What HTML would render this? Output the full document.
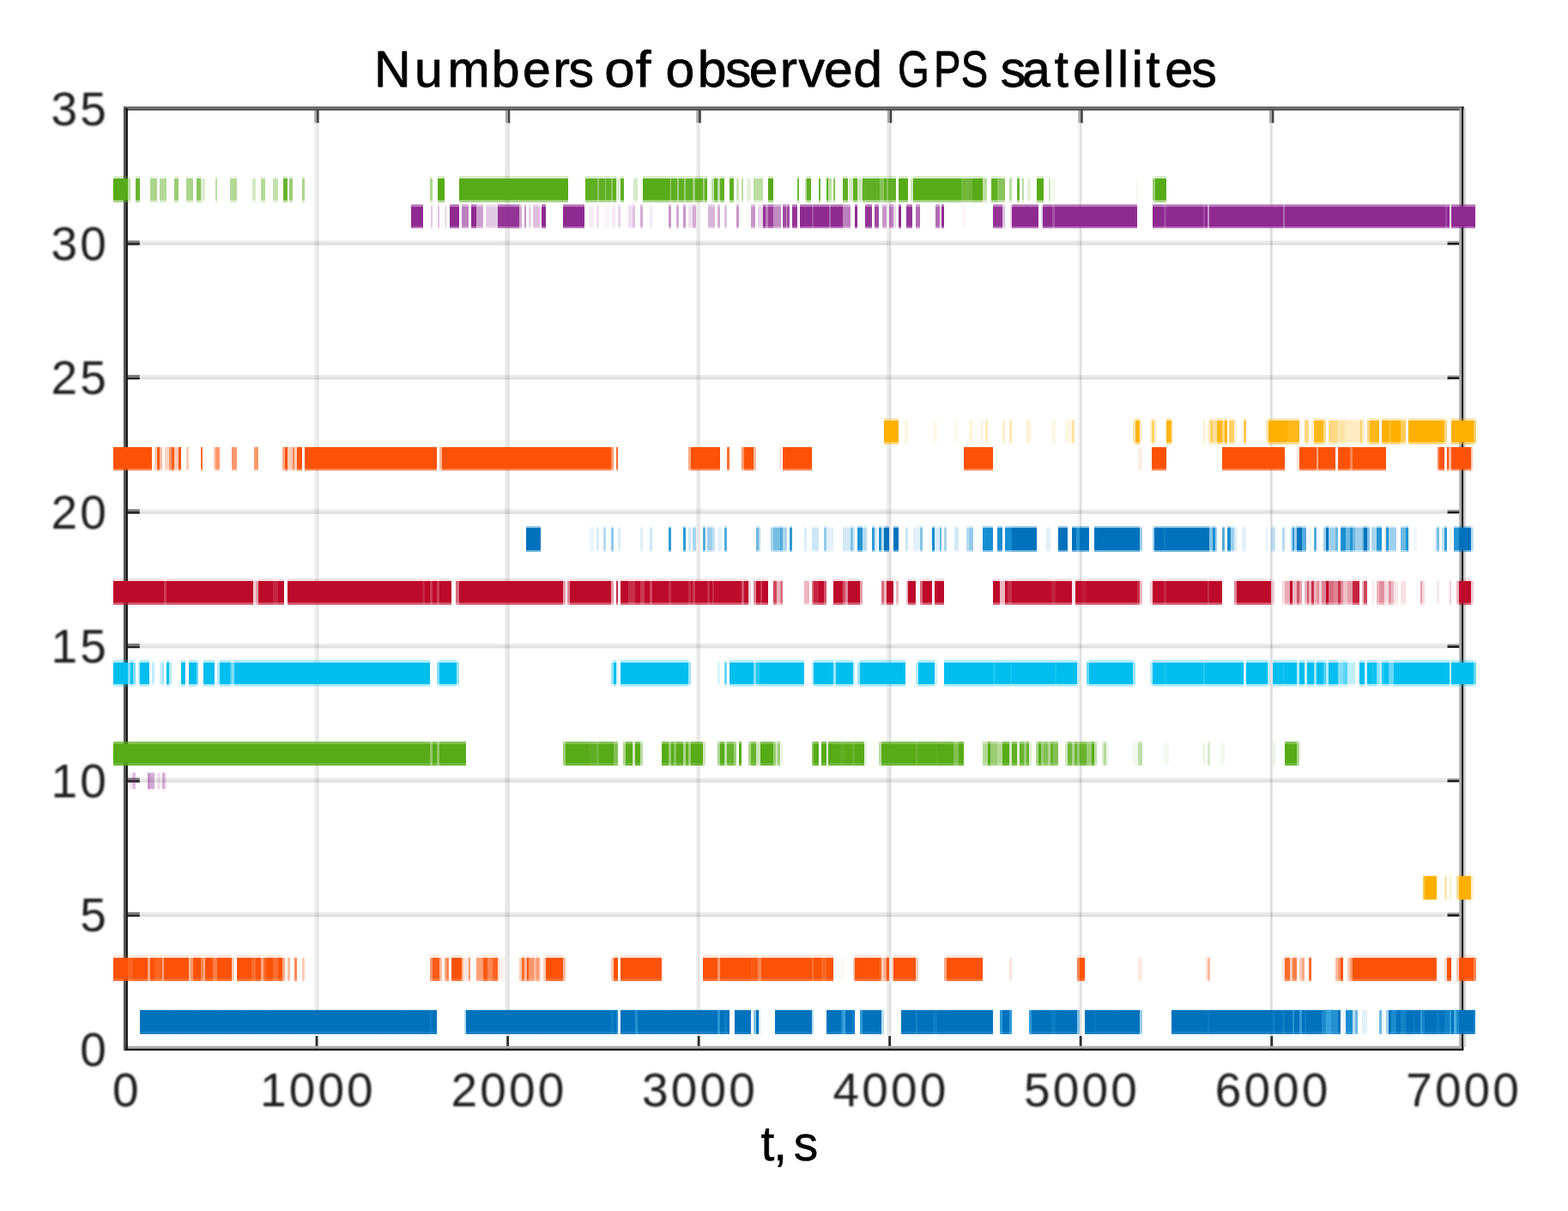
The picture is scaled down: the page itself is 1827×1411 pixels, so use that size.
<!DOCTYPE html>
<html lang="en"><head><meta charset="utf-8"><title>Numbers of observed GPS satellites</title>
<style>html,body{margin:0;padding:0;background:#fff}body{width:1827px;height:1411px;overflow:hidden}svg{display:block}text{font-family:"Liberation Sans",sans-serif}</style></head><body>
<svg width="1827" height="1411" viewBox="0 0 1827 1411">
<defs><filter id="tsoft" x="-5%" y="-20%" width="110%" height="140%"><feGaussianBlur stdDeviation="0.8"/></filter>
<linearGradient id="r1" x1="0" y1="0" x2="0" y2="1"><stop offset="0" stop-color="#0072bd" stop-opacity=".3"/><stop offset="0.0175" stop-color="#0072bd" stop-opacity=".3"/><stop offset="0.0175" stop-color="#0072bd"/><stop offset="0.8881" stop-color="#0072bd"/><stop offset="0.8881" stop-color="#0072bd" stop-opacity=".9"/><stop offset="1" stop-color="#0072bd" stop-opacity=".9"/></linearGradient><linearGradient id="p1" x1="0" y1="0" x2="0" y2="1"><stop offset="0" stop-color="#0a88cf" stop-opacity=".3"/><stop offset="0.0175" stop-color="#0a88cf" stop-opacity=".3"/><stop offset="0.0175" stop-color="#0a88cf"/><stop offset="0.8881" stop-color="#0a88cf"/><stop offset="0.8881" stop-color="#0a88cf" stop-opacity=".9"/><stop offset="1" stop-color="#0a88cf" stop-opacity=".9"/></linearGradient><linearGradient id="r3" x1="0" y1="0" x2="0" y2="1"><stop offset="0" stop-color="#fb5208" stop-opacity=".15"/><stop offset="0.0927" stop-color="#fb5208" stop-opacity=".15"/><stop offset="0.0927" stop-color="#fb5208"/><stop offset="0.9139" stop-color="#fb5208"/><stop offset="0.9139" stop-color="#fb5208" stop-opacity=".85"/><stop offset="1" stop-color="#fb5208" stop-opacity=".85"/></linearGradient><linearGradient id="r6" x1="0" y1="0" x2="0" y2="1"><stop offset="0" stop-color="#ffb000" stop-opacity=".5"/><stop offset="0.0284" stop-color="#ffb000" stop-opacity=".5"/><stop offset="0.0284" stop-color="#ffb000"/><stop offset="0.9787" stop-color="#ffb000"/><stop offset="0.9787" stop-color="#ffb000" stop-opacity=".5"/><stop offset="1" stop-color="#ffb000" stop-opacity=".5"/></linearGradient><linearGradient id="r10" x1="0" y1="0" x2="0" y2="1"><stop offset="0" stop-color="#8f2a91" stop-opacity=".4"/><stop offset="0.0952" stop-color="#8f2a91" stop-opacity=".4"/><stop offset="0.0952" stop-color="#8f2a91"/><stop offset="0.9048" stop-color="#8f2a91"/><stop offset="0.9048" stop-color="#8f2a91" stop-opacity=".4"/><stop offset="1" stop-color="#8f2a91" stop-opacity=".4"/></linearGradient><linearGradient id="r11" x1="0" y1="0" x2="0" y2="1"><stop offset="0" stop-color="#57ab17" stop-opacity=".75"/><stop offset="0.1036" stop-color="#57ab17" stop-opacity=".75"/><stop offset="0.1036" stop-color="#57ab17"/><stop offset="0.8929" stop-color="#57ab17"/><stop offset="0.8929" stop-color="#57ab17" stop-opacity=".85"/><stop offset="1" stop-color="#57ab17" stop-opacity=".85"/></linearGradient><linearGradient id="r14" x1="0" y1="0" x2="0" y2="1"><stop offset="0" stop-color="#00bef0" stop-opacity=".3"/><stop offset="0.0974" stop-color="#00bef0" stop-opacity=".3"/><stop offset="0.0974" stop-color="#00bef0"/><stop offset="0.9091" stop-color="#00bef0"/><stop offset="0.9091" stop-color="#00bef0" stop-opacity=".35"/><stop offset="1" stop-color="#00bef0" stop-opacity=".35"/></linearGradient><linearGradient id="r17" x1="0" y1="0" x2="0" y2="1"><stop offset="0" stop-color="#be0a2a" stop-opacity=".12"/><stop offset="0.0882" stop-color="#be0a2a" stop-opacity=".12"/><stop offset="0.0882" stop-color="#be0a2a"/><stop offset="0.9085" stop-color="#be0a2a"/><stop offset="0.9085" stop-color="#be0a2a" stop-opacity=".7"/><stop offset="1" stop-color="#be0a2a" stop-opacity=".7"/></linearGradient><linearGradient id="r19" x1="0" y1="0" x2="0" y2="1"><stop offset="0" stop-color="#0072bd" stop-opacity=".4"/><stop offset="0.0631" stop-color="#0072bd" stop-opacity=".4"/><stop offset="0.0631" stop-color="#0072bd"/><stop offset="0.9236" stop-color="#0072bd"/><stop offset="0.9236" stop-color="#0072bd" stop-opacity=".55"/><stop offset="1" stop-color="#0072bd" stop-opacity=".55"/></linearGradient><linearGradient id="p19" x1="0" y1="0" x2="0" y2="1"><stop offset="0" stop-color="#0a88cf" stop-opacity=".4"/><stop offset="0.0631" stop-color="#0a88cf" stop-opacity=".4"/><stop offset="0.0631" stop-color="#0a88cf"/><stop offset="0.9236" stop-color="#0a88cf"/><stop offset="0.9236" stop-color="#0a88cf" stop-opacity=".55"/><stop offset="1" stop-color="#0a88cf" stop-opacity=".55"/></linearGradient><linearGradient id="r22" x1="0" y1="0" x2="0" y2="1"><stop offset="0" stop-color="#fb5208" stop-opacity=".1"/><stop offset="0.0283" stop-color="#fb5208" stop-opacity=".1"/><stop offset="0.0283" stop-color="#fb5208"/><stop offset="0.9293" stop-color="#fb5208"/><stop offset="0.9293" stop-color="#fb5208" stop-opacity=".7"/><stop offset="1" stop-color="#fb5208" stop-opacity=".7"/></linearGradient><linearGradient id="r23" x1="0" y1="0" x2="0" y2="1"><stop offset="0" stop-color="#ffb000" stop-opacity=".3"/><stop offset="0.0915" stop-color="#ffb000" stop-opacity=".3"/><stop offset="0.0915" stop-color="#ffb000"/><stop offset="0.9118" stop-color="#ffb000"/><stop offset="0.9118" stop-color="#ffb000" stop-opacity=".55"/><stop offset="1" stop-color="#ffb000" stop-opacity=".55"/></linearGradient><linearGradient id="r31" x1="0" y1="0" x2="0" y2="1"><stop offset="0" stop-color="#8f2a91" stop-opacity=".65"/><stop offset="0.1043" stop-color="#8f2a91" stop-opacity=".65"/><stop offset="0.1043" stop-color="#8f2a91"/><stop offset="0.9101" stop-color="#8f2a91"/><stop offset="0.9101" stop-color="#8f2a91" stop-opacity=".65"/><stop offset="1" stop-color="#8f2a91" stop-opacity=".65"/></linearGradient><linearGradient id="r32" x1="0" y1="0" x2="0" y2="1"><stop offset="0" stop-color="#57ab17" stop-opacity=".25"/><stop offset="0.0817" stop-color="#57ab17" stop-opacity=".25"/><stop offset="0.0817" stop-color="#57ab17"/><stop offset="0.9052" stop-color="#57ab17"/><stop offset="0.9052" stop-color="#57ab17" stop-opacity=".55"/><stop offset="1" stop-color="#57ab17" stop-opacity=".55"/></linearGradient></defs>
<rect width="1827" height="1411" fill="#fff"/>
<g fill="#000"><rect x="366.1" y="143.3" width="2.9" height="1063.9" fill-opacity=".06"/><rect x="369" y="143.3" width="2.8" height="1063.9" fill-opacity=".09"/><rect x="588.4" y="143.3" width="3.2" height="1063.9" fill-opacity=".09"/><rect x="591.6" y="143.3" width="2.3" height="1063.9" fill-opacity=".11"/><rect x="810.9" y="143.3" width="2.1" height="1063.9" fill-opacity=".06"/><rect x="813" y="143.3" width="2.4" height="1063.9" fill-opacity=".1"/><rect x="815.4" y="143.3" width="0.8" height="1063.9" fill-opacity=".05"/><rect x="1032.9" y="143.3" width="3.3" height="1063.9" fill-opacity=".07"/><rect x="1036.2" y="143.3" width="2.1" height="1063.9" fill-opacity=".13"/><rect x="1255.5" y="143.3" width="2.5" height="1063.9" fill-opacity=".04"/><rect x="1258" y="143.3" width="2.5" height="1063.9" fill-opacity=".12"/><rect x="1479.9" y="143.3" width="2.8" height="1063.9" fill-opacity=".13"/><rect x="162.8" y="1062.9" width="1523.7" height="2.7" fill-opacity=".08"/><rect x="162.8" y="1065.6" width="1523.7" height="2.7" fill-opacity=".12"/><rect x="162.8" y="906.4" width="1523.7" height="2.7" fill-opacity=".08"/><rect x="162.8" y="909.1" width="1523.7" height="2.7" fill-opacity=".12"/><rect x="162.8" y="749.9" width="1523.7" height="2.7" fill-opacity=".08"/><rect x="162.8" y="752.6" width="1523.7" height="2.7" fill-opacity=".12"/><rect x="162.8" y="593.4" width="1523.7" height="2.7" fill-opacity=".08"/><rect x="162.8" y="596.1" width="1523.7" height="2.7" fill-opacity=".12"/><rect x="162.8" y="436.9" width="1523.7" height="2.7" fill-opacity=".08"/><rect x="162.8" y="439.6" width="1523.7" height="2.7" fill-opacity=".12"/><rect x="162.8" y="280.4" width="1523.7" height="2.7" fill-opacity=".08"/><rect x="162.8" y="283.1" width="1523.7" height="2.7" fill-opacity=".12"/></g>
<g><rect x="366.2" y="128" width="2.8" height="15.3" fill="#a8a8a8"/><rect x="369" y="128" width="2.7" height="15.3" fill="#444"/><rect x="367.6" y="1207.1" width="2.9" height="15.4" fill="#2e2e2e"/><rect x="588.8" y="128" width="2.8" height="15.3" fill="#a8a8a8"/><rect x="591.6" y="128" width="2.7" height="15.3" fill="#444"/><rect x="590.2" y="1207.1" width="2.9" height="15.4" fill="#2e2e2e"/><rect x="811.3" y="128" width="2.8" height="15.3" fill="#a8a8a8"/><rect x="814.1" y="128" width="2.7" height="15.3" fill="#444"/><rect x="812.7" y="1207.1" width="2.9" height="15.4" fill="#2e2e2e"/><rect x="1033.8" y="128" width="2.8" height="15.3" fill="#a8a8a8"/><rect x="1036.6" y="128" width="2.7" height="15.3" fill="#444"/><rect x="1035.2" y="1207.1" width="2.9" height="15.4" fill="#2e2e2e"/><rect x="1256.3" y="128" width="2.8" height="15.3" fill="#a8a8a8"/><rect x="1259.1" y="128" width="2.7" height="15.3" fill="#444"/><rect x="1257.7" y="1207.1" width="2.9" height="15.4" fill="#2e2e2e"/><rect x="1478.9" y="128" width="2.8" height="15.3" fill="#a8a8a8"/><rect x="1481.7" y="128" width="2.7" height="15.3" fill="#444"/><rect x="1480.3" y="1207.1" width="2.9" height="15.4" fill="#2e2e2e"/><rect x="148.5" y="1062.8" width="14.3" height="2.7" fill="#7a7a7a"/><rect x="148.5" y="1065.5" width="14.3" height="2.7" fill="#262626"/><rect x="1686.5" y="1063.3" width="14" height="1.9" fill="#a0a0a0"/><rect x="1686.5" y="1065.2" width="14" height="2.7" fill="#1a1a1a"/><rect x="148.5" y="906.3" width="14.3" height="2.7" fill="#7a7a7a"/><rect x="148.5" y="909" width="14.3" height="2.7" fill="#262626"/><rect x="1686.5" y="906.8" width="14" height="1.9" fill="#a0a0a0"/><rect x="1686.5" y="908.7" width="14" height="2.7" fill="#1a1a1a"/><rect x="148.5" y="749.8" width="14.3" height="2.7" fill="#7a7a7a"/><rect x="148.5" y="752.5" width="14.3" height="2.7" fill="#262626"/><rect x="1686.5" y="750.3" width="14" height="1.9" fill="#a0a0a0"/><rect x="1686.5" y="752.2" width="14" height="2.7" fill="#1a1a1a"/><rect x="148.5" y="593.3" width="14.3" height="2.7" fill="#7a7a7a"/><rect x="148.5" y="596" width="14.3" height="2.7" fill="#262626"/><rect x="1686.5" y="593.8" width="14" height="1.9" fill="#a0a0a0"/><rect x="1686.5" y="595.7" width="14" height="2.7" fill="#1a1a1a"/><rect x="148.5" y="436.8" width="14.3" height="2.7" fill="#7a7a7a"/><rect x="148.5" y="439.5" width="14.3" height="2.7" fill="#262626"/><rect x="1686.5" y="437.3" width="14" height="1.9" fill="#a0a0a0"/><rect x="1686.5" y="439.2" width="14" height="2.7" fill="#1a1a1a"/><rect x="148.5" y="280.3" width="14.3" height="2.7" fill="#7a7a7a"/><rect x="148.5" y="283" width="14.3" height="2.7" fill="#262626"/><rect x="1686.5" y="280.8" width="14" height="1.9" fill="#a0a0a0"/><rect x="1686.5" y="282.7" width="14" height="2.7" fill="#1a1a1a"/></g>
<g><rect x="144" y="124.1" width="1562" height="2.6" fill="#666"/><rect x="144" y="126.7" width="1562" height="2" fill="#484848"/><rect x="144" y="1218.8" width="1561.3" height="3" fill="#ababab"/><rect x="144" y="1221.8" width="1561.3" height="2.3" fill="#0a0a0a"/><rect x="143.9" y="124.5" width="2.4" height="1099.6" fill="#585858"/><rect x="146.3" y="126" width="2.6" height="1098.1" fill="#141414"/><rect x="1700.3" y="126" width="2.8" height="1095.8" fill="#aaa"/><rect x="1703.1" y="124.5" width="2.2" height="1098" fill="#111"/><rect x="1705.3" y="126" width="2.4" height="1094" fill="#ccc"/></g>
<g fill="url(#r1)">
<rect x="163" y="1176.4" width="346" height="28.6"/>
<rect x="501" y="1176.4" width="2" height="28.6" fill="#5cc4f0" opacity=".15"/>
<rect x="541" y="1176.4" width="2" height="28.6" fill="url(#p1)" opacity=".3"/>
<rect x="543" y="1176.4" width="177" height="28.6"/>
<rect x="712" y="1176.4" width="3" height="28.6" fill="#5cc4f0" opacity=".15"/>
<rect x="718" y="1176.4" width="2" height="28.6" fill="#5cc4f0" opacity=".3"/>
<rect x="720" y="1176.4" width="3" height="28.6" fill="url(#p1)" opacity=".1"/>
<rect x="723" y="1176.4" width="127" height="28.6"/>
<rect x="740" y="1176.4" width="3" height="28.6" fill="#5cc4f0" opacity=".38"/>
<rect x="836" y="1176.4" width="3" height="28.6" fill="#5cc4f0" opacity=".45"/>
<rect x="844" y="1176.4" width="3" height="28.6" fill="#5cc4f0" opacity=".15"/>
<rect x="856" y="1176.4" width="19" height="28.6"/>
<rect x="878" y="1176.4" width="3" height="28.6" fill="url(#p1)" opacity=".5"/>
<rect x="881" y="1176.4" width="3" height="28.6"/>
<rect x="884" y="1176.4" width="2" height="28.6" fill="url(#p1)" opacity=".2"/>
<rect x="903" y="1176.4" width="7" height="28.6"/>
<rect x="910" y="1176.4" width="36" height="28.6"/>
<rect x="946" y="1176.4" width="2" height="28.6" fill="url(#p1)" opacity=".3"/>
<rect x="963" y="1176.4" width="33" height="28.6"/>
<rect x="980" y="1176.4" width="2" height="28.6" fill="#5cc4f0" opacity=".3"/>
<rect x="982" y="1176.4" width="3" height="28.6" fill="#5cc4f0" opacity=".6"/>
<rect x="993" y="1176.4" width="2" height="28.6" fill="#5cc4f0" opacity=".22"/>
<rect x="1002" y="1176.4" width="3" height="28.6" fill="url(#p1)" opacity=".85"/>
<rect x="1005" y="1176.4" width="22" height="28.6"/>
<rect x="1027" y="1176.4" width="3" height="28.6" fill="url(#p1)" opacity=".3"/>
<rect x="1050" y="1176.4" width="107" height="28.6"/>
<rect x="1067" y="1176.4" width="2" height="28.6" fill="#5cc4f0" opacity=".22"/>
<rect x="1087" y="1176.4" width="5" height="28.6" fill="#5cc4f0" opacity=".15"/>
<rect x="1165" y="1176.4" width="3" height="28.6" fill="url(#p1)" opacity=".85"/>
<rect x="1168" y="1176.4" width="8" height="28.6"/>
<rect x="1176" y="1176.4" width="3" height="28.6" fill="url(#p1)" opacity=".85"/>
<rect x="1199" y="1176.4" width="3" height="28.6" fill="url(#p1)" opacity=".85"/>
<rect x="1202" y="1176.4" width="53" height="28.6"/>
<rect x="1225" y="1176.4" width="5" height="28.6" fill="#5cc4f0" opacity=".12"/>
<rect x="1255" y="1176.4" width="3" height="28.6" fill="url(#p1)" opacity=".5"/>
<rect x="1264" y="1176.4" width="36" height="28.6"/>
<rect x="1275" y="1176.4" width="2" height="28.6" fill="#5cc4f0" opacity=".08"/>
<rect x="1300" y="1176.4" width="28" height="28.6"/>
<rect x="1328" y="1176.4" width="3" height="28.6" fill="url(#p1)" opacity=".4"/>
<rect x="1365" y="1176.4" width="197" height="28.6"/>
<rect x="1407" y="1176.4" width="2" height="28.6" fill="#5cc4f0" opacity=".12"/>
<rect x="1483" y="1176.4" width="2" height="28.6" fill="#5cc4f0" opacity=".15"/>
<rect x="1494" y="1176.4" width="3" height="28.6" fill="#5cc4f0" opacity=".15"/>
<rect x="1506" y="1176.4" width="2" height="28.6" fill="#5cc4f0" opacity=".45"/>
<rect x="1514" y="1176.4" width="3" height="28.6" fill="#5cc4f0" opacity=".52"/>
<rect x="1520" y="1176.4" width="2" height="28.6" fill="#5cc4f0" opacity=".15"/>
<rect x="1540" y="1176.4" width="5" height="28.6" fill="#5cc4f0" opacity=".3"/>
<rect x="1545" y="1176.4" width="6" height="28.6" fill="#5cc4f0" opacity=".6"/>
<rect x="1551" y="1176.4" width="8" height="28.6" fill="#5cc4f0" opacity=".38"/>
<rect x="1565" y="1176.4" width="3" height="28.6" fill="url(#p1)" opacity=".1"/>
<rect x="1568" y="1176.4" width="8" height="28.6" fill="url(#p1)" opacity=".95"/>
<rect x="1576" y="1176.4" width="3" height="28.6" fill="url(#p1)" opacity=".3"/>
<rect x="1579" y="1176.4" width="3" height="28.6" fill="url(#p1)" opacity=".6"/>
<rect x="1587" y="1176.4" width="6" height="28.6" fill="url(#p1)" opacity=".12"/>
<rect x="1607" y="1176.4" width="3" height="28.6" fill="url(#p1)" opacity=".6"/>
<rect x="1610" y="1176.4" width="3" height="28.6" fill="url(#p1)" opacity=".08"/>
<rect x="1615" y="1176.4" width="3" height="28.6" fill="url(#p1)" opacity=".4"/>
<rect x="1618" y="1176.4" width="101" height="28.6"/>
<rect x="1621" y="1176.4" width="6" height="28.6" fill="#5cc4f0" opacity=".3"/>
<rect x="1632" y="1176.4" width="6" height="28.6" fill="#5cc4f0" opacity=".22"/>
<rect x="1647" y="1176.4" width="2" height="28.6" fill="#5cc4f0" opacity=".12"/>
<rect x="1655" y="1176.4" width="2" height="28.6" fill="#5cc4f0" opacity=".52"/>
<rect x="1657" y="1176.4" width="3" height="28.6" fill="#5cc4f0" opacity=".22"/>
<rect x="1674" y="1176.4" width="3" height="28.6" fill="#5cc4f0" opacity=".12"/>
<rect x="1683" y="1176.4" width="6" height="28.6" fill="#5cc4f0" opacity=".18"/>
<rect x="1689" y="1176.4" width="2" height="28.6" fill="#5cc4f0" opacity=".52"/>
<rect x="1694" y="1176.4" width="3" height="28.6" fill="#5cc4f0" opacity=".75"/>
<rect x="1697" y="1176.4" width="3" height="28.6" fill="#5cc4f0" opacity=".3"/>
<rect x="1717" y="1176.4" width="2" height="28.6" fill="#5cc4f0" opacity=".3"/>
</g>
<g fill="url(#r3)">
<rect x="132" y="1112.9" width="17" height="30.2"/>
<rect x="149" y="1112.9" width="6" height="30.2" opacity=".9"/>
<rect x="155" y="1112.9" width="17" height="30.2"/>
<rect x="172" y="1112.9" width="3" height="30.2" opacity=".5"/>
<rect x="175" y="1112.9" width="5" height="30.2"/>
<rect x="180" y="1112.9" width="9" height="30.2" opacity=".9"/>
<rect x="189" y="1112.9" width="2" height="30.2" opacity=".5"/>
<rect x="191" y="1112.9" width="29" height="30.2"/>
<rect x="220" y="1112.9" width="2" height="30.2" opacity=".4"/>
<rect x="222" y="1112.9" width="3" height="30.2" opacity=".6"/>
<rect x="225" y="1112.9" width="9" height="30.2"/>
<rect x="234" y="1112.9" width="3" height="30.2" opacity=".7"/>
<rect x="237" y="1112.9" width="2" height="30.2" opacity=".5"/>
<rect x="239" y="1112.9" width="9" height="30.2"/>
<rect x="248" y="1112.9" width="5" height="30.2" opacity=".75"/>
<rect x="253" y="1112.9" width="17" height="30.2"/>
<rect x="270" y="1112.9" width="3" height="30.2" opacity=".3"/>
<rect x="276" y="1112.9" width="17" height="30.2"/>
<rect x="293" y="1112.9" width="5" height="30.2" opacity=".85"/>
<rect x="298" y="1112.9" width="6" height="30.2"/>
<rect x="304" y="1112.9" width="3" height="30.2" opacity=".5"/>
<rect x="307" y="1112.9" width="3" height="30.2" opacity=".85"/>
<rect x="310" y="1112.9" width="8" height="30.2"/>
<rect x="318" y="1112.9" width="6" height="30.2" opacity=".85"/>
<rect x="324" y="1112.9" width="5" height="30.2"/>
<rect x="329" y="1112.9" width="3" height="30.2" opacity=".5"/>
<rect x="335" y="1112.9" width="3" height="30.2" opacity=".4"/>
<rect x="343" y="1112.9" width="3" height="30.2" opacity=".7"/>
<rect x="352" y="1112.9" width="3" height="30.2" opacity=".3"/>
<rect x="501" y="1112.9" width="3" height="30.2" opacity=".6"/>
<rect x="504" y="1112.9" width="8" height="30.2" opacity=".95"/>
<rect x="512" y="1112.9" width="3" height="30.2" opacity=".4"/>
<rect x="518" y="1112.9" width="2" height="30.2" opacity=".5"/>
<rect x="520" y="1112.9" width="3" height="30.2" opacity=".7"/>
<rect x="526" y="1112.9" width="12" height="30.2"/>
<rect x="538" y="1112.9" width="2" height="30.2" opacity=".4"/>
<rect x="540" y="1112.9" width="6" height="30.2" opacity=".15"/>
<rect x="546" y="1112.9" width="2" height="30.2" opacity=".6"/>
<rect x="555" y="1112.9" width="8" height="30.2" opacity=".55"/>
<rect x="563" y="1112.9" width="5" height="30.2" opacity=".95"/>
<rect x="568" y="1112.9" width="6" height="30.2" opacity=".7"/>
<rect x="574" y="1112.9" width="6" height="30.2" opacity=".9"/>
<rect x="580" y="1112.9" width="2" height="30.2" opacity=".2"/>
<rect x="582" y="1112.9" width="6" height="30.2" opacity=".08"/>
<rect x="605" y="1112.9" width="3" height="30.2" opacity=".3"/>
<rect x="608" y="1112.9" width="3" height="30.2" opacity=".85"/>
<rect x="611" y="1112.9" width="3" height="30.2" opacity=".4"/>
<rect x="614" y="1112.9" width="2" height="30.2"/>
<rect x="616" y="1112.9" width="6" height="30.2" opacity=".6"/>
<rect x="622" y="1112.9" width="3" height="30.2" opacity=".4"/>
<rect x="625" y="1112.9" width="3" height="30.2" opacity=".6"/>
<rect x="628" y="1112.9" width="2" height="30.2" opacity=".3"/>
<rect x="633" y="1112.9" width="3" height="30.2" opacity=".3"/>
<rect x="636" y="1112.9" width="20" height="30.2"/>
<rect x="656" y="1112.9" width="3" height="30.2" opacity=".4"/>
<rect x="712" y="1112.9" width="3" height="30.2" opacity=".3"/>
<rect x="715" y="1112.9" width="5" height="30.2"/>
<rect x="723" y="1112.9" width="48" height="30.2"/>
<rect x="819" y="1112.9" width="17" height="30.2"/>
<rect x="836" y="1112.9" width="3" height="30.2" opacity=".6"/>
<rect x="839" y="1112.9" width="36" height="30.2"/>
<rect x="875" y="1112.9" width="8" height="30.2" opacity=".95"/>
<rect x="883" y="1112.9" width="4" height="30.2" opacity=".7"/>
<rect x="887" y="1112.9" width="23" height="30.2"/>
<rect x="910" y="1112.9" width="61" height="30.2"/>
<rect x="946" y="1112.9" width="2" height="30.2" fill="#fff" opacity=".2"/>
<rect x="957" y="1112.9" width="6" height="30.2" fill="#fff" opacity=".12"/>
<rect x="980" y="1112.9" width="4" height="30.2" opacity=".04"/>
<rect x="994" y="1112.9" width="2" height="30.2" opacity=".3"/>
<rect x="996" y="1112.9" width="29" height="30.2"/>
<rect x="1025" y="1112.9" width="2" height="30.2" opacity=".85"/>
<rect x="1027" y="1112.9" width="3" height="30.2" opacity=".3"/>
<rect x="1030" y="1112.9" width="3" height="30.2" opacity=".5"/>
<rect x="1033" y="1112.9" width="3" height="30.2"/>
<rect x="1039" y="1112.9" width="2" height="30.2" opacity=".3"/>
<rect x="1041" y="1112.9" width="26" height="30.2"/>
<rect x="1067" y="1112.9" width="3" height="30.2" opacity=".3"/>
<rect x="1100" y="1112.9" width="3" height="30.2" opacity=".5"/>
<rect x="1103" y="1112.9" width="42" height="30.2"/>
<rect x="1176" y="1112.9" width="3" height="30.2" opacity=".15"/>
<rect x="1255" y="1112.9" width="3" height="30.2" opacity=".7"/>
<rect x="1258" y="1112.9" width="6" height="30.2"/>
<rect x="1326" y="1112.9" width="5" height="30.2" opacity=".12"/>
<rect x="1405" y="1112.9" width="2" height="30.2" opacity=".15"/>
<rect x="1407" y="1112.9" width="3" height="30.2" opacity=".4"/>
<rect x="1494" y="1112.9" width="3" height="30.2" opacity=".15"/>
<rect x="1497" y="1112.9" width="6" height="30.2" opacity=".85"/>
<rect x="1503" y="1112.9" width="3" height="30.2" opacity=".3"/>
<rect x="1506" y="1112.9" width="5" height="30.2" opacity=".75"/>
<rect x="1514" y="1112.9" width="3" height="30.2" opacity=".3"/>
<rect x="1517" y="1112.9" width="3" height="30.2" opacity=".5"/>
<rect x="1525" y="1112.9" width="3" height="30.2" opacity=".85"/>
<rect x="1556" y="1112.9" width="3" height="30.2" opacity=".4"/>
<rect x="1559" y="1112.9" width="3" height="30.2" opacity=".6"/>
<rect x="1562" y="1112.9" width="3" height="30.2"/>
<rect x="1570" y="1112.9" width="3" height="30.2" opacity=".3"/>
<rect x="1573" y="1112.9" width="3" height="30.2" opacity=".6"/>
<rect x="1576" y="1112.9" width="24" height="30.2"/>
<rect x="1600" y="1112.9" width="72" height="30.2"/>
<rect x="1672" y="1112.9" width="2" height="30.2" opacity=".95"/>
<rect x="1683" y="1112.9" width="3" height="30.2" opacity=".2"/>
<rect x="1686" y="1112.9" width="5" height="30.2"/>
<rect x="1697" y="1112.9" width="3" height="30.2" opacity=".3"/>
<rect x="1700" y="1112.9" width="17" height="30.2"/>
<rect x="1717" y="1112.9" width="3" height="30.2" opacity=".7"/>
</g>
<g fill="url(#r6)">
<rect x="1658" y="1020.2" width="2" height="28.2" opacity=".7"/>
<rect x="1660" y="1020.2" width="14" height="28.2"/>
<rect x="1674" y="1020.2" width="3" height="28.2" opacity=".05"/>
<rect x="1683" y="1020.2" width="3" height="28.2" opacity=".3"/>
<rect x="1689" y="1020.2" width="2" height="28.2" opacity=".2"/>
<rect x="1697" y="1020.2" width="3" height="28.2" opacity=".4"/>
<rect x="1700" y="1020.2" width="14" height="28.2"/>
<rect x="1714" y="1020.2" width="3" height="28.2" opacity=".2"/>
</g>
<g fill="url(#r10)">
<rect x="150" y="899.5" width="3" height="21" opacity=".1"/>
<rect x="154" y="899.5" width="4" height="21" opacity=".3"/>
<rect x="172" y="899.5" width="3" height="21" opacity=".5"/>
<rect x="175" y="899.5" width="5" height="21" opacity=".4"/>
<rect x="183" y="899.5" width="4" height="21" opacity=".15"/>
<rect x="189" y="899.5" width="3" height="21" opacity=".4"/>
<rect x="192" y="899.5" width="2" height="21" opacity=".15"/>
</g>
<g fill="url(#r11)">
<rect x="132" y="864.1" width="388" height="28"/>
<rect x="501" y="864.1" width="3" height="28" fill="#fff" opacity=".35"/>
<rect x="509" y="864.1" width="3" height="28" fill="#fff" opacity=".35"/>
<rect x="520" y="864.1" width="23" height="28"/>
<rect x="656" y="864.1" width="3" height="28" opacity=".6"/>
<rect x="659" y="864.1" width="27" height="28"/>
<rect x="686" y="864.1" width="9" height="28" opacity=".95"/>
<rect x="695" y="864.1" width="3" height="28" opacity=".85"/>
<rect x="698" y="864.1" width="17" height="28"/>
<rect x="715" y="864.1" width="5" height="28" opacity=".75"/>
<rect x="726" y="864.1" width="3" height="28" opacity=".5"/>
<rect x="729" y="864.1" width="8" height="28"/>
<rect x="737" y="864.1" width="3" height="28" opacity=".3"/>
<rect x="740" y="864.1" width="6" height="28"/>
<rect x="746" y="864.1" width="3" height="28" opacity=".4"/>
<rect x="771" y="864.1" width="8" height="28"/>
<rect x="779" y="864.1" width="3" height="28" opacity=".6"/>
<rect x="782" y="864.1" width="3" height="28"/>
<rect x="785" y="864.1" width="3" height="28" opacity=".7"/>
<rect x="788" y="864.1" width="8" height="28"/>
<rect x="796" y="864.1" width="3" height="28" opacity=".5"/>
<rect x="799" y="864.1" width="3" height="28" opacity=".95"/>
<rect x="802" y="864.1" width="3" height="28" opacity=".6"/>
<rect x="805" y="864.1" width="14" height="28"/>
<rect x="819" y="864.1" width="3" height="28" opacity=".3"/>
<rect x="836" y="864.1" width="3" height="28" opacity=".5"/>
<rect x="839" y="864.1" width="5" height="28"/>
<rect x="844" y="864.1" width="3" height="28" opacity=".4"/>
<rect x="847" y="864.1" width="8" height="28" opacity=".9"/>
<rect x="855" y="864.1" width="3" height="28" opacity=".6"/>
<rect x="861" y="864.1" width="3" height="28"/>
<rect x="872" y="864.1" width="3" height="28" opacity=".5"/>
<rect x="875" y="864.1" width="6" height="28" opacity=".9"/>
<rect x="881" y="864.1" width="5" height="28" opacity=".3"/>
<rect x="886" y="864.1" width="15" height="28"/>
<rect x="901" y="864.1" width="3" height="28" opacity=".6"/>
<rect x="904" y="864.1" width="2" height="28" opacity=".3"/>
<rect x="906" y="864.1" width="3" height="28" opacity=".6"/>
<rect x="910" y="864.1" width="2" height="28" opacity=".15"/>
<rect x="946" y="864.1" width="2" height="28" opacity=".7"/>
<rect x="948" y="864.1" width="6" height="28"/>
<rect x="957" y="864.1" width="6" height="28"/>
<rect x="965" y="864.1" width="42" height="28"/>
<rect x="979" y="864.1" width="5" height="28" fill="#fff" opacity=".06"/>
<rect x="993" y="864.1" width="3" height="28" fill="#fff" opacity=".1"/>
<rect x="1007" y="864.1" width="3" height="28" opacity=".15"/>
<rect x="1024" y="864.1" width="3" height="28" opacity=".4"/>
<rect x="1027" y="864.1" width="84" height="28"/>
<rect x="1067" y="864.1" width="2" height="28" fill="#fff" opacity=".12"/>
<rect x="1091" y="864.1" width="1" height="28" fill="#fff" opacity=".06"/>
<rect x="1111" y="864.1" width="6" height="28" opacity=".75"/>
<rect x="1117" y="864.1" width="6" height="28"/>
<rect x="1145" y="864.1" width="6" height="28" opacity=".45"/>
<rect x="1151" y="864.1" width="3" height="28"/>
<rect x="1154" y="864.1" width="8" height="28" opacity=".6"/>
<rect x="1162" y="864.1" width="6" height="28" opacity=".45"/>
<rect x="1168" y="864.1" width="8" height="28"/>
<rect x="1176" y="864.1" width="3" height="28" opacity=".3"/>
<rect x="1179" y="864.1" width="6" height="28" opacity=".95"/>
<rect x="1185" y="864.1" width="3" height="28" opacity=".2"/>
<rect x="1188" y="864.1" width="5" height="28" opacity=".9"/>
<rect x="1193" y="864.1" width="3" height="28" opacity=".6"/>
<rect x="1196" y="864.1" width="3" height="28" opacity=".9"/>
<rect x="1199" y="864.1" width="3" height="28" opacity=".2"/>
<rect x="1207" y="864.1" width="3" height="28" opacity=".5"/>
<rect x="1210" y="864.1" width="3" height="28"/>
<rect x="1213" y="864.1" width="3" height="28" opacity=".6"/>
<rect x="1216" y="864.1" width="5" height="28" opacity=".75"/>
<rect x="1221" y="864.1" width="3" height="28" opacity=".5"/>
<rect x="1224" y="864.1" width="3" height="28" opacity=".9"/>
<rect x="1227" y="864.1" width="6" height="28" opacity=".75"/>
<rect x="1241" y="864.1" width="3" height="28" opacity=".3"/>
<rect x="1244" y="864.1" width="5" height="28" opacity=".85"/>
<rect x="1249" y="864.1" width="3" height="28" opacity=".5"/>
<rect x="1252" y="864.1" width="3" height="28" opacity=".85"/>
<rect x="1255" y="864.1" width="3" height="28" opacity=".6"/>
<rect x="1258" y="864.1" width="8" height="28" opacity=".9"/>
<rect x="1266" y="864.1" width="6" height="28" opacity=".6"/>
<rect x="1272" y="864.1" width="3" height="28"/>
<rect x="1275" y="864.1" width="3" height="28" opacity=".4"/>
<rect x="1284" y="864.1" width="2" height="28" opacity=".2"/>
<rect x="1286" y="864.1" width="3" height="28" opacity=".45"/>
<rect x="1289" y="864.1" width="3" height="28" opacity=".1"/>
<rect x="1320" y="864.1" width="6" height="28" opacity=".08"/>
<rect x="1326" y="864.1" width="5" height="28" opacity=".4"/>
<rect x="1356" y="864.1" width="6" height="28" opacity=".06"/>
<rect x="1402" y="864.1" width="2" height="28" opacity=".15"/>
<rect x="1407" y="864.1" width="3" height="28" opacity=".25"/>
<rect x="1422" y="864.1" width="5" height="28" opacity=".06"/>
<rect x="1483" y="864.1" width="3" height="28" opacity=".12"/>
<rect x="1497" y="864.1" width="14" height="28"/>
<rect x="1511" y="864.1" width="3" height="28" opacity=".5"/>
</g>
<g fill="url(#r14)">
<rect x="132" y="768.9" width="17" height="30.8"/>
<rect x="149" y="768.9" width="3" height="30.8" opacity=".5"/>
<rect x="152" y="768.9" width="3" height="30.8" opacity=".95"/>
<rect x="155" y="768.9" width="3" height="30.8" opacity=".5"/>
<rect x="161" y="768.9" width="2" height="30.8" opacity=".3"/>
<rect x="163" y="768.9" width="11" height="30.8"/>
<rect x="177" y="768.9" width="3" height="30.8" opacity=".25"/>
<rect x="186" y="768.9" width="3" height="30.8" opacity=".2"/>
<rect x="189" y="768.9" width="2" height="30.8" opacity=".4"/>
<rect x="194" y="768.9" width="3" height="30.8" opacity=".95"/>
<rect x="197" y="768.9" width="3" height="30.8" opacity=".3"/>
<rect x="211" y="768.9" width="5" height="30.8"/>
<rect x="220" y="768.9" width="9" height="30.8"/>
<rect x="229" y="768.9" width="2" height="30.8" opacity=".6"/>
<rect x="237" y="768.9" width="13" height="30.8"/>
<rect x="253" y="768.9" width="3" height="30.8" opacity=".3"/>
<rect x="256" y="768.9" width="12" height="30.8"/>
<rect x="268" y="768.9" width="2" height="30.8" opacity=".7"/>
<rect x="270" y="768.9" width="3" height="30.8" opacity=".5"/>
<rect x="273" y="768.9" width="228" height="30.8"/>
<rect x="509" y="768.9" width="3" height="30.8" opacity=".5"/>
<rect x="512" y="768.9" width="8" height="30.8"/>
<rect x="520" y="768.9" width="12" height="30.8"/>
<rect x="532" y="768.9" width="3" height="30.8" opacity=".4"/>
<rect x="712" y="768.9" width="3" height="30.8" opacity=".4"/>
<rect x="715" y="768.9" width="3" height="30.8"/>
<rect x="718" y="768.9" width="2" height="30.8" opacity=".2"/>
<rect x="723" y="768.9" width="79" height="30.8"/>
<rect x="802" y="768.9" width="3" height="30.8" opacity=".4"/>
<rect x="836" y="768.9" width="3" height="30.8" opacity=".15"/>
<rect x="844" y="768.9" width="3" height="30.8" opacity=".6"/>
<rect x="850" y="768.9" width="28" height="30.8"/>
<rect x="878" y="768.9" width="3" height="30.8" opacity=".5"/>
<rect x="881" y="768.9" width="4" height="30.8" opacity=".85"/>
<rect x="885" y="768.9" width="25" height="30.8"/>
<rect x="910" y="768.9" width="27" height="30.8"/>
<rect x="946" y="768.9" width="2" height="30.8" opacity=".3"/>
<rect x="948" y="768.9" width="23" height="30.8"/>
<rect x="971" y="768.9" width="3" height="30.8" opacity=".4"/>
<rect x="974" y="768.9" width="20" height="30.8"/>
<rect x="994" y="768.9" width="2" height="30.8" opacity=".3"/>
<rect x="999" y="768.9" width="3" height="30.8" opacity=".4"/>
<rect x="1002" y="768.9" width="53" height="30.8"/>
<rect x="1067" y="768.9" width="3" height="30.8" opacity=".3"/>
<rect x="1070" y="768.9" width="19" height="30.8"/>
<rect x="1089" y="768.9" width="3" height="30.8" opacity=".2"/>
<rect x="1100" y="768.9" width="155" height="30.8"/>
<rect x="1157" y="768.9" width="3" height="30.8" fill="#fff" opacity=".1"/>
<rect x="1177" y="768.9" width="2" height="30.8" fill="#fff" opacity=".08"/>
<rect x="1229" y="768.9" width="2" height="30.8" fill="#fff" opacity=".08"/>
<rect x="1255" y="768.9" width="3" height="30.8" opacity=".2"/>
<rect x="1266" y="768.9" width="3" height="30.8" opacity=".6"/>
<rect x="1269" y="768.9" width="31" height="30.8"/>
<rect x="1300" y="768.9" width="20" height="30.8"/>
<rect x="1320" y="768.9" width="3" height="30.8" opacity=".4"/>
<rect x="1340" y="768.9" width="3" height="30.8" opacity=".3"/>
<rect x="1343" y="768.9" width="106" height="30.8"/>
<rect x="1356" y="768.9" width="3" height="30.8" fill="#fff" opacity=".08"/>
<rect x="1402" y="768.9" width="2" height="30.8" fill="#fff" opacity=".15"/>
<rect x="1449" y="768.9" width="3" height="30.8" opacity=".15"/>
<rect x="1452" y="768.9" width="25" height="30.8"/>
<rect x="1477" y="768.9" width="3" height="30.8" opacity=".3"/>
<rect x="1483" y="768.9" width="28" height="30.8"/>
<rect x="1494" y="768.9" width="3" height="30.8" fill="#fff" opacity=".06"/>
<rect x="1511" y="768.9" width="3" height="30.8" opacity=".3"/>
<rect x="1514" y="768.9" width="6" height="30.8"/>
<rect x="1520" y="768.9" width="3" height="30.8" opacity=".2"/>
<rect x="1523" y="768.9" width="8" height="30.8"/>
<rect x="1531" y="768.9" width="3" height="30.8" opacity=".4"/>
<rect x="1534" y="768.9" width="8" height="30.8"/>
<rect x="1542" y="768.9" width="3" height="30.8" opacity=".7"/>
<rect x="1545" y="768.9" width="3" height="30.8" opacity=".3"/>
<rect x="1548" y="768.9" width="11" height="30.8"/>
<rect x="1559" y="768.9" width="6" height="30.8" opacity=".5"/>
<rect x="1565" y="768.9" width="5" height="30.8" opacity=".65"/>
<rect x="1570" y="768.9" width="9" height="30.8" opacity=".25"/>
<rect x="1579" y="768.9" width="5" height="30.8" opacity=".05"/>
<rect x="1584" y="768.9" width="6" height="30.8"/>
<rect x="1590" y="768.9" width="3" height="30.8" opacity=".2"/>
<rect x="1593" y="768.9" width="6" height="30.8"/>
<rect x="1599" y="768.9" width="1" height="30.8" opacity=".85"/>
<rect x="1600" y="768.9" width="4" height="30.8" opacity=".95"/>
<rect x="1604" y="768.9" width="3" height="30.8" opacity=".5"/>
<rect x="1607" y="768.9" width="3" height="30.8" opacity=".3"/>
<rect x="1610" y="768.9" width="3" height="30.8" opacity=".85"/>
<rect x="1613" y="768.9" width="5" height="30.8"/>
<rect x="1618" y="768.9" width="6" height="30.8" opacity=".6"/>
<rect x="1624" y="768.9" width="65" height="30.8"/>
<rect x="1689" y="768.9" width="2" height="30.8" opacity=".25"/>
<rect x="1691" y="768.9" width="26" height="30.8"/>
<rect x="1717" y="768.9" width="3" height="30.8" opacity=".6"/>
</g>
<g fill="url(#r17)">
<rect x="132" y="674.1" width="163" height="30.6"/>
<rect x="191" y="674.1" width="3" height="30.6" fill="#fff" opacity=".2"/>
<rect x="295" y="674.1" width="3" height="30.6" opacity=".2"/>
<rect x="298" y="674.1" width="3" height="30.6" opacity=".4"/>
<rect x="301" y="674.1" width="30" height="30.6"/>
<rect x="318" y="674.1" width="6" height="30.6" fill="#fff" opacity=".12"/>
<rect x="335" y="674.1" width="185" height="30.6"/>
<rect x="492" y="674.1" width="3" height="30.6" fill="#fff" opacity=".12"/>
<rect x="501" y="674.1" width="3" height="30.6" fill="#fff" opacity=".2"/>
<rect x="509" y="674.1" width="3" height="30.6" fill="#fff" opacity=".2"/>
<rect x="520" y="674.1" width="6" height="30.6"/>
<rect x="531" y="674.1" width="4" height="30.6" opacity=".6"/>
<rect x="535" y="674.1" width="121" height="30.6"/>
<rect x="656" y="674.1" width="3" height="30.6" opacity=".4"/>
<rect x="661" y="674.1" width="3" height="30.6" opacity=".5"/>
<rect x="664" y="674.1" width="48" height="30.6"/>
<rect x="712" y="674.1" width="3" height="30.6" opacity=".4"/>
<rect x="718" y="674.1" width="2" height="30.6" opacity=".85"/>
<rect x="723" y="674.1" width="149" height="30.6"/>
<rect x="732" y="674.1" width="8" height="30.6" fill="#fff" opacity=".15"/>
<rect x="746" y="674.1" width="5" height="30.6" fill="#fff" opacity=".2"/>
<rect x="757" y="674.1" width="3" height="30.6" fill="#fff" opacity=".25"/>
<rect x="779" y="674.1" width="3" height="30.6" fill="#fff" opacity=".15"/>
<rect x="802" y="674.1" width="3" height="30.6" fill="#fff" opacity=".15"/>
<rect x="807" y="674.1" width="3" height="30.6" fill="#fff" opacity=".2"/>
<rect x="824" y="674.1" width="3" height="30.6" fill="#fff" opacity=".15"/>
<rect x="830" y="674.1" width="2" height="30.6" fill="#fff" opacity=".15"/>
<rect x="864" y="674.1" width="3" height="30.6" fill="#fff" opacity=".3"/>
<rect x="872" y="674.1" width="3" height="30.6" opacity=".2"/>
<rect x="878" y="674.1" width="3" height="30.6" opacity=".5"/>
<rect x="881" y="674.1" width="14" height="30.6"/>
<rect x="886" y="674.1" width="2" height="30.6" fill="#fff" opacity=".2"/>
<rect x="901" y="674.1" width="4" height="30.6" opacity=".75"/>
<rect x="905" y="674.1" width="4" height="30.6" opacity=".3"/>
<rect x="909" y="674.1" width="1" height="30.6" opacity=".5"/>
<rect x="910" y="674.1" width="2" height="30.6" opacity=".6"/>
<rect x="937" y="674.1" width="6" height="30.6" opacity=".3"/>
<rect x="946" y="674.1" width="2" height="30.6" opacity=".6"/>
<rect x="948" y="674.1" width="6" height="30.6" opacity=".9"/>
<rect x="954" y="674.1" width="6" height="30.6"/>
<rect x="960" y="674.1" width="3" height="30.6" opacity=".7"/>
<rect x="971" y="674.1" width="11" height="30.6"/>
<rect x="982" y="674.1" width="3" height="30.6" opacity=".7"/>
<rect x="985" y="674.1" width="3" height="30.6" opacity=".5"/>
<rect x="988" y="674.1" width="14" height="30.6"/>
<rect x="1002" y="674.1" width="3" height="30.6" opacity=".4"/>
<rect x="1027" y="674.1" width="3" height="30.6" opacity=".6"/>
<rect x="1030" y="674.1" width="3" height="30.6" opacity=".3"/>
<rect x="1033" y="674.1" width="8" height="30.6"/>
<rect x="1044" y="674.1" width="3" height="30.6" opacity=".3"/>
<rect x="1056" y="674.1" width="2" height="30.6" opacity=".3"/>
<rect x="1058" y="674.1" width="9" height="30.6"/>
<rect x="1072" y="674.1" width="3" height="30.6" opacity=".6"/>
<rect x="1075" y="674.1" width="11" height="30.6"/>
<rect x="1089" y="674.1" width="11" height="30.6"/>
<rect x="1157" y="674.1" width="8" height="30.6"/>
<rect x="1165" y="674.1" width="6" height="30.6" opacity=".3"/>
<rect x="1171" y="674.1" width="3" height="30.6"/>
<rect x="1174" y="674.1" width="5" height="30.6" opacity=".85"/>
<rect x="1179" y="674.1" width="70" height="30.6"/>
<rect x="1225" y="674.1" width="5" height="30.6" fill="#fff" opacity=".1"/>
<rect x="1249" y="674.1" width="4" height="30.6" opacity=".1"/>
<rect x="1253" y="674.1" width="47" height="30.6"/>
<rect x="1260" y="674.1" width="6" height="30.6" fill="#fff" opacity=".06"/>
<rect x="1300" y="674.1" width="25" height="30.6"/>
<rect x="1325" y="674.1" width="3" height="30.6" opacity=".85"/>
<rect x="1328" y="674.1" width="3" height="30.6" opacity=".3"/>
<rect x="1340" y="674.1" width="3" height="30.6" opacity=".2"/>
<rect x="1343" y="674.1" width="81" height="30.6"/>
<rect x="1356" y="674.1" width="3" height="30.6" fill="#fff" opacity=".12"/>
<rect x="1407" y="674.1" width="2" height="30.6" fill="#fff" opacity=".15"/>
<rect x="1438" y="674.1" width="3" height="30.6" opacity=".5"/>
<rect x="1441" y="674.1" width="40" height="30.6"/>
<rect x="1481" y="674.1" width="4" height="30.6" opacity=".2"/>
<rect x="1494" y="674.1" width="3" height="30.6" opacity=".15"/>
<rect x="1497" y="674.1" width="6" height="30.6" opacity=".35"/>
<rect x="1503" y="674.1" width="3" height="30.6"/>
<rect x="1506" y="674.1" width="5" height="30.6" opacity=".3"/>
<rect x="1511" y="674.1" width="3" height="30.6" opacity=".7"/>
<rect x="1514" y="674.1" width="3" height="30.6" opacity=".4"/>
<rect x="1520" y="674.1" width="3" height="30.6" opacity=".3"/>
<rect x="1523" y="674.1" width="2" height="30.6" opacity=".7"/>
<rect x="1525" y="674.1" width="3" height="30.6" opacity=".3"/>
<rect x="1528" y="674.1" width="3" height="30.6" opacity=".85"/>
<rect x="1531" y="674.1" width="3" height="30.6" opacity=".3"/>
<rect x="1534" y="674.1" width="3" height="30.6" opacity=".45"/>
<rect x="1537" y="674.1" width="3" height="30.6" opacity=".2"/>
<rect x="1540" y="674.1" width="5" height="30.6" opacity=".5"/>
<rect x="1545" y="674.1" width="3" height="30.6"/>
<rect x="1548" y="674.1" width="6" height="30.6" opacity=".6"/>
<rect x="1554" y="674.1" width="5" height="30.6" opacity=".5"/>
<rect x="1559" y="674.1" width="3" height="30.6" opacity=".85"/>
<rect x="1562" y="674.1" width="3" height="30.6" opacity=".5"/>
<rect x="1565" y="674.1" width="5" height="30.6" opacity=".25"/>
<rect x="1570" y="674.1" width="6" height="30.6" opacity=".4"/>
<rect x="1576" y="674.1" width="8" height="30.6" opacity=".9"/>
<rect x="1587" y="674.1" width="2" height="30.6" opacity=".3"/>
<rect x="1589" y="674.1" width="4" height="30.6" opacity=".75"/>
<rect x="1599" y="674.1" width="1" height="30.6" opacity=".1"/>
<rect x="1600" y="674.1" width="1" height="30.6" opacity=".08"/>
<rect x="1604" y="674.1" width="3" height="30.6" opacity=".3"/>
<rect x="1607" y="674.1" width="6" height="30.6" opacity=".45"/>
<rect x="1613" y="674.1" width="5" height="30.6" opacity=".15"/>
<rect x="1618" y="674.1" width="3" height="30.6" opacity=".45"/>
<rect x="1621" y="674.1" width="3" height="30.6" opacity=".3"/>
<rect x="1624" y="674.1" width="5" height="30.6" opacity=".1"/>
<rect x="1632" y="674.1" width="6" height="30.6" opacity=".12"/>
<rect x="1655" y="674.1" width="2" height="30.6" opacity=".4"/>
<rect x="1657" y="674.1" width="3" height="30.6" opacity=".15"/>
<rect x="1674" y="674.1" width="3" height="30.6" opacity=".1"/>
<rect x="1689" y="674.1" width="2" height="30.6" opacity=".2"/>
<rect x="1697" y="674.1" width="3" height="30.6" opacity=".3"/>
<rect x="1700" y="674.1" width="14" height="30.6"/>
<rect x="1714" y="674.1" width="3" height="30.6" opacity=".2"/>
</g>
<g fill="url(#r19)">
<rect x="613" y="612.9" width="17" height="30.1"/>
<rect x="687" y="612.9" width="5" height="30.1" fill="url(#p19)" opacity=".08"/>
<rect x="695" y="612.9" width="3" height="30.1" fill="url(#p19)" opacity=".15"/>
<rect x="703" y="612.9" width="3" height="30.1" fill="url(#p19)" opacity=".3"/>
<rect x="712" y="612.9" width="3" height="30.1" fill="url(#p19)" opacity=".45"/>
<rect x="720" y="612.9" width="3" height="30.1" fill="url(#p19)" opacity=".15"/>
<rect x="746" y="612.9" width="3" height="30.1" fill="url(#p19)" opacity=".12"/>
<rect x="757" y="612.9" width="3" height="30.1" fill="url(#p19)" opacity=".2"/>
<rect x="779" y="612.9" width="3" height="30.1" fill="url(#p19)" opacity=".85"/>
<rect x="796" y="612.9" width="3" height="30.1" fill="url(#p19)" opacity=".85"/>
<rect x="802" y="612.9" width="3" height="30.1" fill="url(#p19)" opacity=".2"/>
<rect x="807" y="612.9" width="4" height="30.1" fill="url(#p19)" opacity=".35"/>
<rect x="819" y="612.9" width="3" height="30.1" fill="url(#p19)" opacity=".7"/>
<rect x="824" y="612.9" width="6" height="30.1" fill="url(#p19)" opacity=".4"/>
<rect x="830" y="612.9" width="3" height="30.1" fill="url(#p19)" opacity=".25"/>
<rect x="836" y="612.9" width="5" height="30.1" fill="url(#p19)" opacity=".12"/>
<rect x="844" y="612.9" width="3" height="30.1" fill="url(#p19)" opacity=".7"/>
<rect x="881" y="612.9" width="3" height="30.1" fill="url(#p19)" opacity=".6"/>
<rect x="884" y="612.9" width="2" height="30.1" fill="url(#p19)" opacity=".3"/>
<rect x="898" y="612.9" width="3" height="30.1" fill="url(#p19)" opacity=".35"/>
<rect x="901" y="612.9" width="8" height="30.1" fill="url(#p19)" opacity=".55"/>
<rect x="909" y="612.9" width="1" height="30.1" fill="url(#p19)" opacity=".75"/>
<rect x="910" y="612.9" width="2" height="30.1" fill="url(#p19)" opacity=".7"/>
<rect x="912" y="612.9" width="5" height="30.1" fill="url(#p19)" opacity=".35"/>
<rect x="920" y="612.9" width="3" height="30.1" fill="url(#p19)" opacity=".85"/>
<rect x="937" y="612.9" width="3" height="30.1" fill="url(#p19)" opacity=".15"/>
<rect x="946" y="612.9" width="8" height="30.1" fill="url(#p19)" opacity=".2"/>
<rect x="960" y="612.9" width="3" height="30.1" fill="url(#p19)" opacity=".45"/>
<rect x="963" y="612.9" width="8" height="30.1" fill="url(#p19)" opacity=".12"/>
<rect x="982" y="612.9" width="9" height="30.1" fill="url(#p19)" opacity=".18"/>
<rect x="991" y="612.9" width="3" height="30.1" fill="url(#p19)" opacity=".5"/>
<rect x="994" y="612.9" width="2" height="30.1" fill="url(#p19)" opacity=".2"/>
<rect x="999" y="612.9" width="6" height="30.1" fill="url(#p19)" opacity=".9"/>
<rect x="1005" y="612.9" width="5" height="30.1" fill="url(#p19)" opacity=".3"/>
<rect x="1016" y="612.9" width="3" height="30.1" fill="url(#p19)" opacity=".85"/>
<rect x="1019" y="612.9" width="3" height="30.1" fill="url(#p19)" opacity=".2"/>
<rect x="1024" y="612.9" width="3" height="30.1" fill="url(#p19)" opacity=".9"/>
<rect x="1027" y="612.9" width="3" height="30.1" fill="url(#p19)" opacity=".3"/>
<rect x="1030" y="612.9" width="6" height="30.1"/>
<rect x="1041" y="612.9" width="6" height="30.1"/>
<rect x="1055" y="612.9" width="3" height="30.1" fill="url(#p19)" opacity=".2"/>
<rect x="1064" y="612.9" width="8" height="30.1" fill="url(#p19)" opacity=".12"/>
<rect x="1072" y="612.9" width="3" height="30.1" fill="url(#p19)" opacity=".5"/>
<rect x="1086" y="612.9" width="3" height="30.1" fill="url(#p19)" opacity=".95"/>
<rect x="1089" y="612.9" width="6" height="30.1" fill="url(#p19)" opacity=".15"/>
<rect x="1095" y="612.9" width="2" height="30.1" fill="url(#p19)" opacity=".6"/>
<rect x="1100" y="612.9" width="3" height="30.1" fill="url(#p19)" opacity=".35"/>
<rect x="1112" y="612.9" width="5" height="30.1" fill="url(#p19)" opacity=".18"/>
<rect x="1126" y="612.9" width="3" height="30.1" fill="url(#p19)" opacity=".3"/>
<rect x="1129" y="612.9" width="5" height="30.1" fill="url(#p19)" opacity=".45"/>
<rect x="1145" y="612.9" width="12" height="30.1" fill="url(#p19)" opacity=".95"/>
<rect x="1162" y="612.9" width="6" height="30.1" fill="url(#p19)" opacity=".95"/>
<rect x="1171" y="612.9" width="8" height="30.1" fill="url(#p19)" opacity=".95"/>
<rect x="1179" y="612.9" width="29" height="30.1"/>
<rect x="1219" y="612.9" width="5" height="30.1" fill="url(#p19)" opacity=".12"/>
<rect x="1233" y="612.9" width="11" height="30.1"/>
<rect x="1249" y="612.9" width="5" height="30.1"/>
<rect x="1254" y="612.9" width="4" height="30.1" fill="url(#p19)" opacity=".9"/>
<rect x="1258" y="612.9" width="11" height="30.1"/>
<rect x="1275" y="612.9" width="14" height="30.1"/>
<rect x="1289" y="612.9" width="11" height="30.1"/>
<rect x="1300" y="612.9" width="28" height="30.1"/>
<rect x="1328" y="612.9" width="3" height="30.1" fill="url(#p19)" opacity=".4"/>
<rect x="1343" y="612.9" width="2" height="30.1" fill="url(#p19)" opacity=".4"/>
<rect x="1345" y="612.9" width="64" height="30.1"/>
<rect x="1356" y="612.9" width="2" height="30.1" fill="#5cc4f0" opacity=".15"/>
<rect x="1409" y="612.9" width="4" height="30.1" fill="url(#p19)" opacity=".5"/>
<rect x="1413" y="612.9" width="3" height="30.1" fill="url(#p19)" opacity=".95"/>
<rect x="1416" y="612.9" width="2" height="30.1" fill="url(#p19)" opacity=".4"/>
<rect x="1424" y="612.9" width="3" height="30.1" fill="url(#p19)" opacity=".7"/>
<rect x="1430" y="612.9" width="4" height="30.1" fill="url(#p19)" opacity=".95"/>
<rect x="1434" y="612.9" width="4" height="30.1" fill="url(#p19)" opacity=".4"/>
<rect x="1438" y="612.9" width="3" height="30.1" fill="url(#p19)" opacity=".15"/>
<rect x="1447" y="612.9" width="5" height="30.1" fill="url(#p19)" opacity=".12"/>
<rect x="1475" y="612.9" width="2" height="30.1" fill="url(#p19)" opacity=".1"/>
<rect x="1481" y="612.9" width="5" height="30.1" fill="url(#p19)" opacity=".25"/>
<rect x="1494" y="612.9" width="3" height="30.1" fill="url(#p19)" opacity=".3"/>
<rect x="1504" y="612.9" width="2" height="30.1" fill="url(#p19)" opacity=".3"/>
<rect x="1506" y="612.9" width="2" height="30.1" fill="url(#p19)" opacity=".85"/>
<rect x="1508" y="612.9" width="3" height="30.1" fill="url(#p19)" opacity=".4"/>
<rect x="1511" y="612.9" width="6" height="30.1"/>
<rect x="1517" y="612.9" width="5" height="30.1" fill="url(#p19)" opacity=".7"/>
<rect x="1526" y="612.9" width="2" height="30.1" fill="url(#p19)" opacity=".1"/>
<rect x="1531" y="612.9" width="3" height="30.1" fill="url(#p19)" opacity=".7"/>
<rect x="1542" y="612.9" width="3" height="30.1" fill="url(#p19)" opacity=".4"/>
<rect x="1545" y="612.9" width="3" height="30.1"/>
<rect x="1548" y="612.9" width="8" height="30.1" fill="url(#p19)" opacity=".4"/>
<rect x="1556" y="612.9" width="3" height="30.1" fill="url(#p19)" opacity=".6"/>
<rect x="1562" y="612.9" width="6" height="30.1" fill="url(#p19)" opacity=".95"/>
<rect x="1568" y="612.9" width="5" height="30.1" fill="url(#p19)" opacity=".6"/>
<rect x="1573" y="612.9" width="3" height="30.1" fill="url(#p19)" opacity=".9"/>
<rect x="1576" y="612.9" width="3" height="30.1" fill="url(#p19)" opacity=".6"/>
<rect x="1579" y="612.9" width="8" height="30.1" fill="url(#p19)" opacity=".4"/>
<rect x="1587" y="612.9" width="2" height="30.1" fill="url(#p19)" opacity=".6"/>
<rect x="1589" y="612.9" width="4" height="30.1"/>
<rect x="1593" y="612.9" width="3" height="30.1" fill="url(#p19)" opacity=".5"/>
<rect x="1598" y="612.9" width="2" height="30.1" fill="url(#p19)" opacity=".35"/>
<rect x="1600" y="612.9" width="4" height="30.1" fill="url(#p19)" opacity=".35"/>
<rect x="1604" y="612.9" width="6" height="30.1" fill="url(#p19)" opacity=".9"/>
<rect x="1613" y="612.9" width="2" height="30.1" fill="url(#p19)" opacity=".15"/>
<rect x="1615" y="612.9" width="3" height="30.1" fill="url(#p19)" opacity=".9"/>
<rect x="1618" y="612.9" width="9" height="30.1" fill="url(#p19)" opacity=".4"/>
<rect x="1632" y="612.9" width="6" height="30.1" fill="url(#p19)" opacity=".6"/>
<rect x="1638" y="612.9" width="3" height="30.1" fill="url(#p19)" opacity=".9"/>
<rect x="1641" y="612.9" width="2" height="30.1" fill="url(#p19)" opacity=".1"/>
<rect x="1647" y="612.9" width="4" height="30.1" fill="url(#p19)" opacity=".06"/>
<rect x="1672" y="612.9" width="2" height="30.1" fill="url(#p19)" opacity=".15"/>
<rect x="1674" y="612.9" width="3" height="30.1" fill="url(#p19)" opacity=".55"/>
<rect x="1680" y="612.9" width="3" height="30.1" fill="url(#p19)" opacity=".25"/>
<rect x="1683" y="612.9" width="3" height="30.1" fill="url(#p19)" opacity=".85"/>
<rect x="1689" y="612.9" width="2" height="30.1" fill="url(#p19)" opacity=".1"/>
<rect x="1694" y="612.9" width="6" height="30.1" fill="url(#p19)" opacity=".9"/>
<rect x="1700" y="612.9" width="14" height="30.1"/>
<rect x="1714" y="612.9" width="3" height="30.1" fill="url(#p19)" opacity=".25"/>
</g>
<g fill="url(#r22)">
<rect x="132" y="520" width="45" height="28.3"/>
<rect x="180" y="520" width="3" height="28.3" opacity=".3"/>
<rect x="183" y="520" width="3" height="28.3" opacity=".95"/>
<rect x="186" y="520" width="3" height="28.3" opacity=".4"/>
<rect x="192" y="520" width="5" height="28.3" opacity=".25"/>
<rect x="197" y="520" width="3" height="28.3" opacity=".6"/>
<rect x="200" y="520" width="3" height="28.3" opacity=".95"/>
<rect x="203" y="520" width="5" height="28.3" opacity=".3"/>
<rect x="208" y="520" width="3" height="28.3"/>
<rect x="217" y="520" width="3" height="28.3" opacity=".3"/>
<rect x="234" y="520" width="2" height="28.3" opacity=".85"/>
<rect x="249" y="520" width="2" height="28.3" opacity=".3"/>
<rect x="251" y="520" width="5" height="28.3" opacity=".6"/>
<rect x="270" y="520" width="6" height="28.3" opacity=".6"/>
<rect x="296" y="520" width="5" height="28.3" opacity=".6"/>
<rect x="329" y="520" width="3" height="28.3" opacity=".5"/>
<rect x="332" y="520" width="3" height="28.3"/>
<rect x="335" y="520" width="6" height="28.3" opacity=".3"/>
<rect x="341" y="520" width="2" height="28.3" opacity=".7"/>
<rect x="343" y="520" width="3" height="28.3" opacity=".3"/>
<rect x="346" y="520" width="6" height="28.3"/>
<rect x="355" y="520" width="154" height="28.3"/>
<rect x="512" y="520" width="3" height="28.3" opacity=".4"/>
<rect x="515" y="520" width="5" height="28.3"/>
<rect x="520" y="520" width="192" height="28.3"/>
<rect x="712" y="520" width="3" height="28.3" opacity=".6"/>
<rect x="718" y="520" width="2" height="28.3" opacity=".85"/>
<rect x="802" y="520" width="3" height="28.3" opacity=".5"/>
<rect x="805" y="520" width="34" height="28.3"/>
<rect x="847" y="520" width="3" height="28.3" opacity=".85"/>
<rect x="864" y="520" width="3" height="28.3" opacity=".6"/>
<rect x="867" y="520" width="11" height="28.3"/>
<rect x="878" y="520" width="3" height="28.3" opacity=".4"/>
<rect x="909" y="520" width="1" height="28.3" opacity=".3"/>
<rect x="912" y="520" width="34" height="28.3"/>
<rect x="1123" y="520" width="34" height="28.3"/>
<rect x="1326" y="520" width="5" height="28.3" opacity=".1"/>
<rect x="1342" y="520" width="17" height="28.3"/>
<rect x="1424" y="520" width="73" height="28.3"/>
<rect x="1511" y="520" width="3" height="28.3" opacity=".15"/>
<rect x="1514" y="520" width="20" height="28.3"/>
<rect x="1534" y="520" width="2" height="28.3" opacity=".5"/>
<rect x="1536" y="520" width="20" height="28.3"/>
<rect x="1556" y="520" width="3" height="28.3" opacity=".1"/>
<rect x="1559" y="520" width="14" height="28.3"/>
<rect x="1573" y="520" width="3" height="28.3" opacity=".7"/>
<rect x="1576" y="520" width="24" height="28.3"/>
<rect x="1600" y="520" width="15" height="28.3"/>
<rect x="1675" y="520" width="2" height="28.3" opacity=".7"/>
<rect x="1677" y="520" width="6" height="28.3"/>
<rect x="1686" y="520" width="2" height="28.3"/>
<rect x="1688" y="520" width="3" height="28.3" opacity=".4"/>
<rect x="1691" y="520" width="23" height="28.3"/>
<rect x="1714" y="520" width="2" height="28.3" opacity=".3"/>
</g>
<g fill="url(#r23)">
<rect x="1030" y="487.1" width="17" height="30.6"/>
<rect x="1054" y="487.1" width="4" height="30.6" opacity=".12"/>
<rect x="1087" y="487.1" width="5" height="30.6" opacity=".07"/>
<rect x="1112" y="487.1" width="5" height="30.6" opacity=".06"/>
<rect x="1129" y="487.1" width="5" height="30.6" opacity=".12"/>
<rect x="1143" y="487.1" width="2" height="30.6" opacity=".15"/>
<rect x="1148" y="487.1" width="3" height="30.6" opacity=".25"/>
<rect x="1168" y="487.1" width="3" height="30.6" opacity=".2"/>
<rect x="1176" y="487.1" width="3" height="30.6" opacity=".3"/>
<rect x="1196" y="487.1" width="3" height="30.6" opacity=".2"/>
<rect x="1199" y="487.1" width="3" height="30.6" opacity=".1"/>
<rect x="1225" y="487.1" width="5" height="30.6" opacity=".1"/>
<rect x="1241" y="487.1" width="8" height="30.6" opacity=".1"/>
<rect x="1249" y="487.1" width="3" height="30.6" opacity=".35"/>
<rect x="1320" y="487.1" width="3" height="30.6" opacity=".3"/>
<rect x="1323" y="487.1" width="5" height="30.6" opacity=".95"/>
<rect x="1328" y="487.1" width="3" height="30.6" opacity=".2"/>
<rect x="1340" y="487.1" width="2" height="30.6" opacity=".2"/>
<rect x="1342" y="487.1" width="3" height="30.6" opacity=".6"/>
<rect x="1345" y="487.1" width="3" height="30.6" opacity=".2"/>
<rect x="1359" y="487.1" width="6" height="30.6" opacity=".95"/>
<rect x="1365" y="487.1" width="2" height="30.6" opacity=".2"/>
<rect x="1402" y="487.1" width="2" height="30.6" opacity=".2"/>
<rect x="1407" y="487.1" width="3" height="30.6" opacity=".2"/>
<rect x="1410" y="487.1" width="3" height="30.6" opacity=".6"/>
<rect x="1413" y="487.1" width="5" height="30.6" opacity=".4"/>
<rect x="1418" y="487.1" width="6" height="30.6" opacity=".9"/>
<rect x="1424" y="487.1" width="3" height="30.6" opacity=".5"/>
<rect x="1427" y="487.1" width="3" height="30.6" opacity=".95"/>
<rect x="1432" y="487.1" width="6" height="30.6" opacity=".6"/>
<rect x="1438" y="487.1" width="3" height="30.6" opacity=".2"/>
<rect x="1449" y="487.1" width="3" height="30.6" opacity=".7"/>
<rect x="1475" y="487.1" width="3" height="30.6" opacity=".3"/>
<rect x="1478" y="487.1" width="22" height="30.6"/>
<rect x="1500" y="487.1" width="14" height="30.6" opacity=".9"/>
<rect x="1520" y="487.1" width="5" height="30.6" opacity=".5"/>
<rect x="1528" y="487.1" width="3" height="30.6" opacity=".2"/>
<rect x="1531" y="487.1" width="11" height="30.6" opacity=".9"/>
<rect x="1542" y="487.1" width="3" height="30.6" opacity=".5"/>
<rect x="1548" y="487.1" width="10" height="30.6" opacity=".5"/>
<rect x="1558" y="487.1" width="9" height="30.6" opacity=".35"/>
<rect x="1567" y="487.1" width="18" height="30.6" opacity=".25"/>
<rect x="1585" y="487.1" width="2" height="30.6" opacity=".6"/>
<rect x="1587" y="487.1" width="3" height="30.6" opacity=".2"/>
<rect x="1593" y="487.1" width="3" height="30.6" opacity=".5"/>
<rect x="1596" y="487.1" width="4" height="30.6" opacity=".9"/>
<rect x="1600" y="487.1" width="7" height="30.6" opacity=".9"/>
<rect x="1610" y="487.1" width="8" height="30.6"/>
<rect x="1618" y="487.1" width="3" height="30.6" opacity=".85"/>
<rect x="1621" y="487.1" width="11" height="30.6"/>
<rect x="1632" y="487.1" width="6" height="30.6" opacity=".65"/>
<rect x="1641" y="487.1" width="39" height="30.6"/>
<rect x="1680" y="487.1" width="3" height="30.6" opacity=".9"/>
<rect x="1683" y="487.1" width="3" height="30.6" opacity=".5"/>
<rect x="1691" y="487.1" width="26" height="30.6"/>
<rect x="1717" y="487.1" width="3" height="30.6" opacity=".6"/>
</g>
<g fill="url(#r31)">
<rect x="479" y="238.2" width="14" height="27.8"/>
<rect x="502" y="238.2" width="2" height="27.8" opacity=".25"/>
<rect x="510" y="238.2" width="2" height="27.8" opacity=".3"/>
<rect x="519" y="238.2" width="1" height="27.8" opacity=".3"/>
<rect x="524" y="238.2" width="11" height="27.8"/>
<rect x="538" y="238.2" width="8" height="27.8" opacity=".6"/>
<rect x="549" y="238.2" width="6" height="27.8"/>
<rect x="555" y="238.2" width="8" height="27.8" opacity=".45"/>
<rect x="566" y="238.2" width="14" height="27.8" opacity=".25"/>
<rect x="580" y="238.2" width="25" height="27.8" opacity=".95"/>
<rect x="605" y="238.2" width="3" height="27.8" opacity=".4"/>
<rect x="611" y="238.2" width="2" height="27.8" opacity=".5"/>
<rect x="616" y="238.2" width="3" height="27.8" opacity=".2"/>
<rect x="621" y="238.2" width="8" height="27.8" opacity=".3"/>
<rect x="631" y="238.2" width="5" height="27.8"/>
<rect x="656" y="238.2" width="25" height="27.8"/>
<rect x="686" y="238.2" width="6" height="27.8" opacity=".08"/>
<rect x="695" y="238.2" width="3" height="27.8" opacity=".15"/>
<rect x="704" y="238.2" width="6" height="27.8" opacity=".05"/>
<rect x="713" y="238.2" width="4" height="27.8" opacity=".1"/>
<rect x="720" y="238.2" width="3" height="27.8" opacity=".2"/>
<rect x="732" y="238.2" width="5" height="27.8" opacity=".15"/>
<rect x="737" y="238.2" width="3" height="27.8" opacity=".3"/>
<rect x="746" y="238.2" width="3" height="27.8" opacity=".4"/>
<rect x="757" y="238.2" width="3" height="27.8" opacity=".1"/>
<rect x="779" y="238.2" width="3" height="27.8" opacity=".5"/>
<rect x="788" y="238.2" width="3" height="27.8" opacity=".4"/>
<rect x="796" y="238.2" width="3" height="27.8" opacity=".5"/>
<rect x="802" y="238.2" width="5" height="27.8" opacity=".15"/>
<rect x="807" y="238.2" width="4" height="27.8" opacity=".4"/>
<rect x="825" y="238.2" width="8" height="27.8" opacity=".35"/>
<rect x="836" y="238.2" width="3" height="27.8" opacity=".4"/>
<rect x="844" y="238.2" width="3" height="27.8" opacity=".3"/>
<rect x="858" y="238.2" width="3" height="27.8" opacity=".5"/>
<rect x="875" y="238.2" width="5" height="27.8" opacity=".5"/>
<rect x="883" y="238.2" width="6" height="27.8" opacity=".2"/>
<rect x="889" y="238.2" width="3" height="27.8" opacity=".95"/>
<rect x="892" y="238.2" width="3" height="27.8" opacity=".6"/>
<rect x="895" y="238.2" width="6" height="27.8" opacity=".9"/>
<rect x="901" y="238.2" width="9" height="27.8" opacity=".55"/>
<rect x="912" y="238.2" width="8" height="27.8" opacity=".85"/>
<rect x="916" y="238.2" width="1" height="27.8" fill="#fff" opacity=".4"/>
<rect x="923" y="238.2" width="6" height="27.8" opacity=".95"/>
<rect x="932" y="238.2" width="50" height="27.8"/>
<rect x="946" y="238.2" width="2" height="27.8" fill="#fff" opacity=".2"/>
<rect x="966" y="238.2" width="2" height="27.8" fill="#fff" opacity=".3"/>
<rect x="982" y="238.2" width="9" height="27.8" opacity=".6"/>
<rect x="996" y="238.2" width="3" height="27.8"/>
<rect x="1008" y="238.2" width="8" height="27.8" opacity=".95"/>
<rect x="1019" y="238.2" width="5" height="27.8" opacity=".85"/>
<rect x="1028" y="238.2" width="5" height="27.8" opacity=".5"/>
<rect x="1036" y="238.2" width="5" height="27.8" opacity=".6"/>
<rect x="1041" y="238.2" width="3" height="27.8" opacity=".2"/>
<rect x="1047" y="238.2" width="3" height="27.8"/>
<rect x="1056" y="238.2" width="7" height="27.8" opacity=".95"/>
<rect x="1067" y="238.2" width="5" height="27.8" opacity=".7"/>
<rect x="1090" y="238.2" width="5" height="27.8" opacity=".7"/>
<rect x="1097" y="238.2" width="3" height="27.8"/>
<rect x="1121" y="238.2" width="4" height="27.8" opacity=".04"/>
<rect x="1157" y="238.2" width="11" height="27.8" opacity=".95"/>
<rect x="1168" y="238.2" width="3" height="27.8" opacity=".3"/>
<rect x="1177" y="238.2" width="2" height="27.8" opacity=".2"/>
<rect x="1179" y="238.2" width="31" height="27.8"/>
<rect x="1213" y="238.2" width="2" height="27.8" opacity=".2"/>
<rect x="1215" y="238.2" width="85" height="27.8"/>
<rect x="1226" y="238.2" width="3" height="27.8" fill="#fff" opacity=".2"/>
<rect x="1300" y="238.2" width="25" height="27.8"/>
<rect x="1343" y="238.2" width="346" height="27.8"/>
<rect x="1356" y="238.2" width="3" height="27.8" fill="#fff" opacity=".15"/>
<rect x="1402" y="238.2" width="2" height="27.8" fill="#fff" opacity=".15"/>
<rect x="1407" y="238.2" width="2" height="27.8" fill="#fff" opacity=".5"/>
<rect x="1495" y="238.2" width="2" height="27.8" fill="#fff" opacity=".3"/>
<rect x="1684" y="238.2" width="2" height="27.8" fill="#fff" opacity=".15"/>
<rect x="1691" y="238.2" width="28" height="27.8"/>
</g>
<g fill="url(#r32)">
<rect x="132" y="205.1" width="17" height="30.6"/>
<rect x="149" y="205.1" width="3" height="30.6" opacity=".4"/>
<rect x="158" y="205.1" width="5" height="30.6" opacity=".9"/>
<rect x="175" y="205.1" width="8" height="30.6" opacity=".5"/>
<rect x="186" y="205.1" width="8" height="30.6" opacity=".45"/>
<rect x="203" y="205.1" width="5" height="30.6" opacity=".6"/>
<rect x="217" y="205.1" width="8" height="30.6" opacity=".5"/>
<rect x="229" y="205.1" width="5" height="30.6" opacity=".7"/>
<rect x="234" y="205.1" width="5" height="30.6" opacity=".2"/>
<rect x="251" y="205.1" width="2" height="30.6" opacity=".4"/>
<rect x="268" y="205.1" width="8" height="30.6" opacity=".45"/>
<rect x="294" y="205.1" width="4" height="30.6" opacity=".25"/>
<rect x="304" y="205.1" width="5" height="30.6" opacity=".45"/>
<rect x="318" y="205.1" width="6" height="30.6" opacity=".35"/>
<rect x="330" y="205.1" width="5" height="30.6" opacity=".9"/>
<rect x="337" y="205.1" width="4" height="30.6" opacity=".6"/>
<rect x="352" y="205.1" width="3" height="30.6" opacity=".5"/>
<rect x="501" y="205.1" width="3" height="30.6" opacity=".5"/>
<rect x="510" y="205.1" width="8" height="30.6"/>
<rect x="535" y="205.1" width="127" height="30.6"/>
<rect x="682" y="205.1" width="36" height="30.6" opacity=".95"/>
<rect x="696" y="205.1" width="2" height="30.6" fill="#fff" opacity=".3"/>
<rect x="705" y="205.1" width="1" height="30.6" fill="#fff" opacity=".3"/>
<rect x="712" y="205.1" width="2" height="30.6" fill="#fff" opacity=".3"/>
<rect x="718" y="205.1" width="5" height="30.6" opacity=".2"/>
<rect x="723" y="205.1" width="4" height="30.6" opacity=".95"/>
<rect x="738" y="205.1" width="5" height="30.6" opacity=".25"/>
<rect x="749" y="205.1" width="30" height="30.6"/>
<rect x="779" y="205.1" width="45" height="30.6" opacity=".95"/>
<rect x="781" y="205.1" width="1" height="30.6" fill="#fff" opacity=".4"/>
<rect x="789" y="205.1" width="2" height="30.6" fill="#fff" opacity=".4"/>
<rect x="797" y="205.1" width="2" height="30.6" fill="#fff" opacity=".4"/>
<rect x="807" y="205.1" width="3" height="30.6" fill="#fff" opacity=".4"/>
<rect x="819" y="205.1" width="2" height="30.6" fill="#fff" opacity=".4"/>
<rect x="829" y="205.1" width="3" height="30.6" opacity=".4"/>
<rect x="832" y="205.1" width="4" height="30.6" opacity=".95"/>
<rect x="836" y="205.1" width="3" height="30.6" opacity=".4"/>
<rect x="839" y="205.1" width="5" height="30.6" opacity=".95"/>
<rect x="850" y="205.1" width="5" height="30.6" opacity=".95"/>
<rect x="858" y="205.1" width="3" height="30.6" opacity=".3"/>
<rect x="864" y="205.1" width="2" height="30.6" opacity=".4"/>
<rect x="870" y="205.1" width="5" height="30.6" opacity=".15"/>
<rect x="878" y="205.1" width="11" height="30.6" opacity=".4"/>
<rect x="895" y="205.1" width="6" height="30.6"/>
<rect x="929" y="205.1" width="2" height="30.6" opacity=".85"/>
<rect x="938" y="205.1" width="2" height="30.6" opacity=".4"/>
<rect x="940" y="205.1" width="5" height="30.6" opacity=".95"/>
<rect x="954" y="205.1" width="2" height="30.6" opacity=".9"/>
<rect x="963" y="205.1" width="2" height="30.6" opacity=".95"/>
<rect x="965" y="205.1" width="4" height="30.6" opacity=".4"/>
<rect x="971" y="205.1" width="2" height="30.6" opacity=".7"/>
<rect x="982" y="205.1" width="6" height="30.6" opacity=".95"/>
<rect x="989" y="205.1" width="5" height="30.6" opacity=".25"/>
<rect x="994" y="205.1" width="5" height="30.6" opacity=".95"/>
<rect x="999" y="205.1" width="6" height="30.6" opacity=".3"/>
<rect x="1005" y="205.1" width="39" height="30.6" opacity=".95"/>
<rect x="1025" y="205.1" width="5" height="30.6" fill="#fff" opacity=".25"/>
<rect x="1033" y="205.1" width="2" height="30.6" fill="#fff" opacity=".25"/>
<rect x="1047" y="205.1" width="11" height="30.6"/>
<rect x="1061" y="205.1" width="3" height="30.6" opacity=".3"/>
<rect x="1064" y="205.1" width="81" height="30.6"/>
<rect x="1120" y="205.1" width="13" height="30.6" fill="#fff" opacity=".15"/>
<rect x="1145" y="205.1" width="5" height="30.6" opacity=".4"/>
<rect x="1155" y="205.1" width="7" height="30.6" opacity=".95"/>
<rect x="1162" y="205.1" width="9" height="30.6" opacity=".7"/>
<rect x="1176" y="205.1" width="3" height="30.6" opacity=".4"/>
<rect x="1185" y="205.1" width="3" height="30.6" opacity=".9"/>
<rect x="1191" y="205.1" width="2" height="30.6" opacity=".4"/>
<rect x="1197" y="205.1" width="4" height="30.6" opacity=".15"/>
<rect x="1208" y="205.1" width="8" height="30.6"/>
<rect x="1222" y="205.1" width="2" height="30.6" opacity=".3"/>
<rect x="1227" y="205.1" width="2" height="30.6" opacity=".1"/>
<rect x="1324" y="205.1" width="1" height="30.6" opacity=".1"/>
<rect x="1343" y="205.1" width="3" height="30.6" opacity=".6"/>
<rect x="1346" y="205.1" width="13" height="30.6"/>
</g>
<g filter="url(#tsoft)">
<g font-size="55" fill="#1e1e1e" text-anchor="middle" style="letter-spacing:3.1px">
<text x="147.9" y="1288.9">0</text>
<text x="370.4" y="1288.9">1000</text>
<text x="593" y="1288.9">2000</text>
<text x="815.5" y="1288.9">3000</text>
<text x="1038" y="1288.9">4000</text>
<text x="1260.5" y="1288.9">5000</text>
<text x="1483.1" y="1288.9">6000</text>
<text x="1705.6" y="1288.9">7000</text>
</g>
<g font-size="55" fill="#1e1e1e" text-anchor="end" style="letter-spacing:3.1px">
<text x="126.9" y="1241.8">0</text>
<text x="126.9" y="1085.3">5</text>
<text x="126.9" y="928.8">10</text>
<text x="126.9" y="772.3">15</text>
<text x="126.9" y="615.8">20</text>
<text x="126.9" y="459.3">25</text>
<text x="126.9" y="302.8">30</text>
<text x="126.9" y="146.3">35</text>
</g>
</g>
<g font-size="59" fill="#000" stroke="#000" stroke-width=".8" stroke-linejoin="round">
<text x="436.1 483 521.4 572.7 609 644.2 662.6" y="100.8">Numbers</text>
<text transform="scale(1.08 1)" x="652 686" y="100.8">of</text>
<text transform="scale(1.03 1)" x="753 789 820.4 847.3 882.2 903.5 932 965.3" y="100.8">observed</text>
<text transform="scale(.8 1)" x="1307.6 1360.1 1399.7" y="100.8">GPS</text>
<text x="1165.8 1191 1228.6 1250 1285.2 1302.1 1318.8 1335.3 1357.2 1388.3" y="100.8">satellites</text>
</g>
<text x="886.4 901.3 913 924.8" y="1352.2" font-size="57" fill="#000" stroke="#000" stroke-width=".5">t, s</text>
</svg></body></html>
